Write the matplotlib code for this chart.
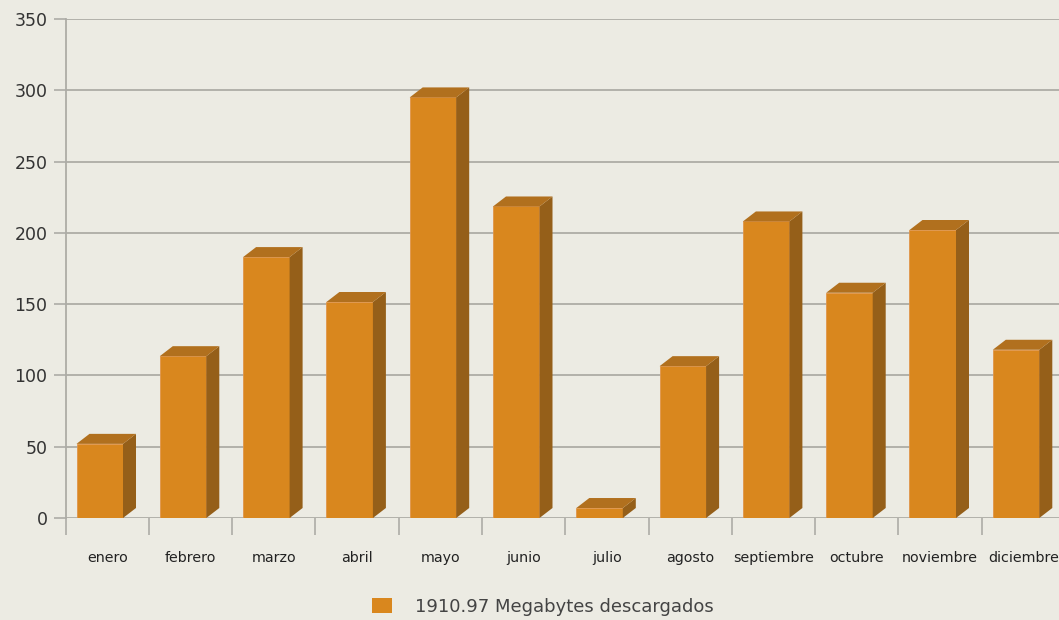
import matplotlib
matplotlib.use('Agg')
import matplotlib.pyplot as plt
from matplotlib.patches import Polygon, Patch

meses = ['enero', 'febrero', 'marzo', 'abril', 'mayo', 'junio', 'julio',
         'agosto', 'septiembre', 'octubre', 'noviembre', 'diciembre']
megabytes = [52, 113.5, 183, 151.5, 295, 218.5, 7, 106.5, 208, 158, 202, 118]
total_label = '1910.97 Megabytes descargados'

bg = '#ecebe3'
front_clr = '#d9871e'
top_clr = '#b1701e'
side_clr = '#955f19'
grid_clr = '#adaca6'

W, H = 1059, 620
fig = plt.figure(figsize=(W / 100, H / 100), dpi=100, facecolor=bg)
left_px, slot_px = 65.5, 83.3
bottom_px, top_px = 518, 19
ax = fig.add_axes([left_px / W, (H - bottom_px) / H,
                   12 * slot_px / W, (bottom_px - top_px) / H])
ax.set_facecolor(bg)
ax.set_xlim(0, 12)
ax.set_ylim(0, 350)

# pseudo 3d depth
dx = 13 / slot_px
dy = 10 / ((bottom_px - top_px) / 350)
off, bw = 11 / slot_px, 46.5 / slot_px

xs = [i + off for i in range(len(meses))]
ax.bar(xs, megabytes, width=bw, align='edge', color=front_clr,
       edgecolor='#e0954a', linewidth=0.6, zorder=3)
for x0, v in zip(xs, megabytes):
    x1 = x0 + bw
    side = Polygon([(x1, 0), (x1 + dx, dy), (x1 + dx, v + dy), (x1, v)],
                   closed=True, facecolor=side_clr, edgecolor='none',
                   zorder=3, clip_on=False)
    top = Polygon([(x0, v), (x0 + dx, v + dy), (x1 + dx, v + dy), (x1, v)],
                  closed=True, facecolor=top_clr, edgecolor='none',
                  zorder=3, clip_on=False)
    ax.add_patch(side)
    ax.add_patch(top)

ax.set_yticks(range(0, 351, 50))
ax.yaxis.grid(True, color=grid_clr, linewidth=1.3, zorder=0)
ax.set_axisbelow(True)
ax.tick_params(axis='y', length=9, width=1.2, color=grid_clr, pad=4,
               labelsize=12.5, labelcolor='#333333')

ax.set_xticks(range(0, 13))
ax.set_xticklabels([])
ax.set_xticks([i + 0.5 for i in range(12)], minor=True)
ax.set_xticklabels(meses, minor=True, fontsize=10.3, color='#222222')
ax.tick_params(axis='x', which='major', length=12, width=1.2, color=grid_clr)
ax.tick_params(axis='x', which='minor', length=0, pad=24)

for s in ['top', 'right', 'bottom']:
    ax.spines[s].set_visible(False)
ax.spines['left'].set_color(grid_clr)
ax.spines['left'].set_linewidth(1.3)

fig.legend(handles=[Patch(facecolor=front_clr, edgecolor='none')],
           labels=[total_label], loc='center',
           bbox_to_anchor=(543 / W, (H - 607) / H), frameon=False,
           fontsize=13, handlelength=1.1, handleheight=0.9,
           handletextpad=1.3, labelcolor='#444444')

fig.savefig('out.png', dpi=100, facecolor=bg)
